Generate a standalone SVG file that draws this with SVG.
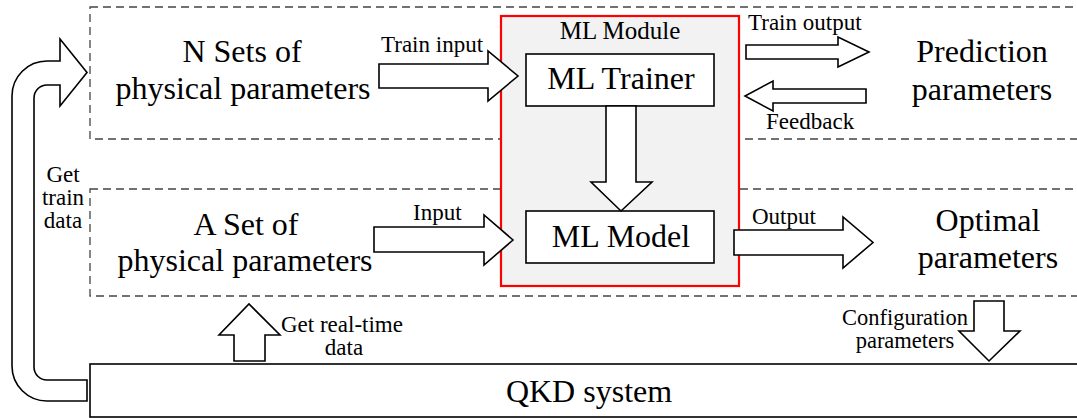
<svg xmlns="http://www.w3.org/2000/svg" width="1077" height="418" viewBox="0 0 1077 418">
<style>
.big{font-size:32px}
.lbl{font-size:23px}
.dash{fill:none;stroke:#444;stroke-width:1.3;stroke-dasharray:8,5}
.blk{fill:#fff;stroke:#000;stroke-width:1.6;stroke-linejoin:miter}
.box{fill:#fff;stroke:#000;stroke-width:1.6}
</style>
<rect width="1077" height="418" fill="#fff"/>
<g font-family="'Liberation Serif', 'Times New Roman', Times, Tinos, 'Noto Serif', 'DejaVu Serif', FreeSerif, 'Nimbus Roman', serif" fill="#000">
<g id="nsets">
<rect class="dash" x="90" y="7" width="1000" height="132"/>
<text class="big" x="242" y="62" text-anchor="middle">N Sets of</text>
<text class="big" x="243" y="99" text-anchor="middle">physical parameters</text>
<text class="big" x="982" y="62" text-anchor="middle">Prediction</text>
<text class="big" x="982" y="100" text-anchor="middle">parameters</text>
</g>
<g id="aset">
<rect class="dash" x="90" y="189" width="1000" height="107"/>
<text class="big" x="246" y="235" text-anchor="middle">A Set of</text>
<text class="big" x="245" y="271" text-anchor="middle">physical parameters</text>
<text class="big" x="988" y="231" text-anchor="middle">Optimal</text>
<text class="big" x="988" y="268" text-anchor="middle">parameters</text>
</g>
<g id="mlmodule">
<rect x="501" y="16" width="238" height="270" fill="#f2f2f2" stroke="#ff0000" stroke-width="2.2"/>
<text x="620" y="39" font-size="25" text-anchor="middle">ML Module</text>
</g>
<g id="mltrainer">
<rect class="box" x="526" y="54" width="188" height="52"/>
<text class="big" x="621" y="89" text-anchor="middle">ML Trainer</text>
</g>
<g id="mlmodel">
<rect class="box" x="526" y="211" width="188" height="52"/>
<text class="big" x="621" y="247" text-anchor="middle">ML Model</text>
</g>
<g id="qkd">
<rect class="box" x="90" y="364" width="1000" height="53"/>
<text class="big" x="589" y="402" text-anchor="middle">QKD system</text>
</g>
<g id="connectors">
<polygon class="blk" points="379,64 488,64 488,51 518,76 488,101 488,88 379,88"/>
<text class="lbl" x="381" y="52">Train input</text>
<polygon class="blk" points="374,227 484,227 484,215 513,240 484,265 484,252 374,252"/>
<text class="lbl" x="413" y="220">Input</text>
<polygon class="blk" points="606,106 636,106 636,182 652,182 621,211 591,182 606,182"/>
<polygon class="blk" points="746,45 838,45 838,37 869,52 838,67 838,59 746,59"/>
<text class="lbl" x="748" y="30">Train output</text>
<polygon class="blk" points="866,89 773,89 773,81 745,96 773,111 773,103 866,103"/>
<text class="lbl" x="766" y="129">Feedback</text>
<polygon class="blk" points="734,230 843,230 843,217 873,242.5 843,268 843,255 734,255"/>
<text class="lbl" x="752" y="224">Output</text>
<polygon class="blk" points="974,301 1004,301 1004,331 1020,331 989,361 959,331 974,331"/>
<text x="905" y="325" font-size="22.5" text-anchor="middle">Configuration</text>
<text x="905" y="348" font-size="22.5" text-anchor="middle">parameters</text>
<polygon class="blk" points="234,361 234,335 219,335 249,304 280,335 265,335 265,361"/>
<text class="lbl" x="281" y="332">Get real-time</text>
<text class="lbl" x="344" y="355" text-anchor="middle">data</text>
<path class="blk" d="M87,401 H47 A35,35 0 0 1 12,366 V96 A35,35 0 0 1 47,61 H60 V39 L87,72.5 L60,106 V85 H47 A13,13 0 0 0 34,98 V367 A13,13 0 0 0 47,380 H87 Z"/>
<text class="lbl" x="63" y="182" text-anchor="middle">Get</text>
<text class="lbl" x="63" y="205" text-anchor="middle">train</text>
<text class="lbl" x="63" y="228" text-anchor="middle">data</text>
</g>
</g>
</svg>
